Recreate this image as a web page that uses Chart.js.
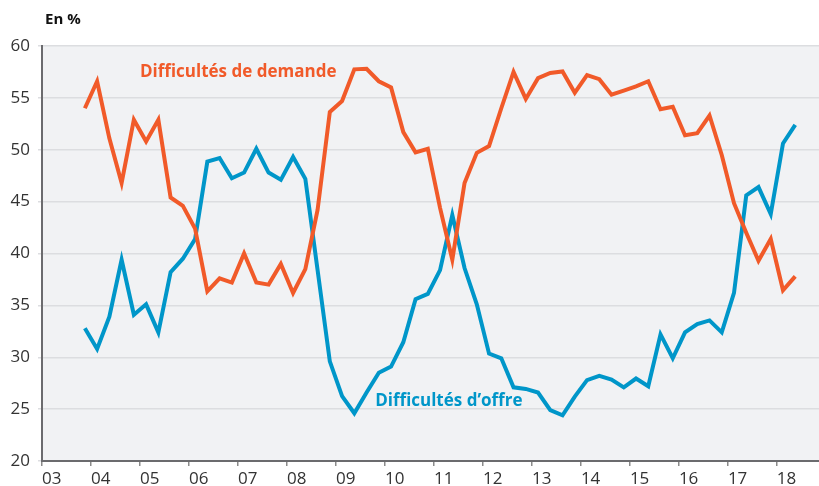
<!DOCTYPE html>
<html>
<head>
<meta charset="utf-8">
<script src="https://cdn.jsdelivr.net/npm/chart.js@4.4.0/dist/chart.umd.min.js"></script>
<style>
  html, body { margin: 0; padding: 0; background: #ffffff; }
  #wrap { position: relative; width: 819px; height: 486px; }
</style>
</head>
<body>
<div id="wrap"><canvas id="c" width="819" height="486"></canvas></div>
<script>
// Quarterly periods (year + quarter)
const periods = [
  "2003T4",
  "2004T1","2004T2","2004T3","2004T4",
  "2005T1","2005T2","2005T3","2005T4",
  "2006T1","2006T2","2006T3","2006T4",
  "2007T1","2007T2","2007T3","2007T4",
  "2008T1","2008T2","2008T3","2008T4",
  "2009T1","2009T2","2009T3","2009T4",
  "2010T1","2010T2","2010T3","2010T4",
  "2011T1","2011T2","2011T3","2011T4",
  "2012T1","2012T2","2012T3","2012T4",
  "2013T1","2013T2","2013T3","2013T4",
  "2014T1","2014T2","2014T3","2014T4",
  "2015T1","2015T2","2015T3","2015T4",
  "2016T1","2016T2","2016T3","2016T4",
  "2017T1","2017T2","2017T3","2017T4",
  "2018T1","2018T2"
];

// Difficultés de demande (%)
const demande = [
  54.0,
  56.6, 51.1, 46.8, 52.9,
  50.8, 52.9, 45.4, 44.6,
  42.4, 36.35, 37.6, 37.2,
  40.0, 37.2, 37.0, 39.0,
  36.2, 38.5, 44.2, 53.65,
  54.7, 57.75, 57.8, 56.6,
  56.0, 51.7, 49.75, 50.1,
  44.4, 39.4, 46.8, 49.7,
  50.35, 54.0, 57.5, 54.9,
  56.9, 57.4, 57.55, 55.5,
  57.2, 56.8, 55.3, 55.7,
  56.1, 56.6, 53.9, 54.15,
  51.4, 51.6, 53.3, 49.5,
  44.85, 42.0, 39.3, 41.4,
  36.45, 37.8
];

// Difficultés d'offre (%)
const offre = [
  32.8,
  30.8, 33.9, 39.4, 34.1,
  35.1, 32.4, 38.2, 39.5,
  41.4, 48.85, 49.2, 47.25,
  47.8, 50.1, 47.8, 47.1,
  49.3, 47.2, 38.4, 29.6,
  26.25, 24.6, 26.6, 28.5,
  29.1, 31.45, 35.6, 36.1,
  38.4, 43.7, 38.6, 35.1,
  30.35, 29.9, 27.1, 26.95,
  26.6, 24.9, 24.4, 26.2,
  27.8, 28.2, 27.85, 27.1,
  27.95, 27.2, 32.2, 29.9,
  32.4, 33.2, 33.55, 32.4,
  36.2, 45.6, 46.4, 43.8,
  50.6, 52.4
];

// Year ticks on the x axis
const yearTicks = [2003,2004,2005,2006,2007,2008,2009,2010,2011,2012,2013,2014,2015,2016,2017,2018];
// Y axis ticks
const yTicks = [20,25,30,35,40,45,50,55,60];

// Series labels
const labelDemande = "Difficultés de demande";
const labelOffre = "Difficultés d\u2019offre";
const unitLabel = "En %";

function periodToX(p) {
  const y = parseInt(p.slice(0, 4), 10);
  const q = parseInt(p.slice(5), 10);
  return y + (q - 0.5) / 4;
}

const ORANGE = "#F15A29";
const BLUE = "#0096C9";
const FONT = "'Open Sans', 'DejaVu Sans', sans-serif";

const bgPlugin = {
  id: "bg",
  beforeDraw(chart) {
    const { ctx, chartArea: a } = chart;
    ctx.save();
    ctx.fillStyle = "#F1F2F4";
    ctx.fillRect(a.left, a.top, a.right - a.left, a.bottom - a.top);
    ctx.restore();
  },
  afterDatasetsDraw(chart) {
    const { ctx, scales } = chart;
    const x = scales.x, y = scales.y;
    ctx.save();
    ctx.font = "bold 17px " + FONT;
    ctx.textBaseline = "middle";
    ctx.textAlign = "left";
    ctx.fillStyle = ORANGE;
    ctx.fillText(labelDemande, x.getPixelForValue(2005.0), y.getPixelForValue(57.45));
    ctx.fillStyle = BLUE;
    ctx.fillText(labelOffre, x.getPixelForValue(2009.8), y.getPixelForValue(25.75));
    ctx.fillStyle = "#111111";
    ctx.font = "bold 15px " + FONT;
    ctx.fillText(unitLabel, 45, 20);
    ctx.restore();
  }
};

const ctx = document.getElementById("c").getContext("2d");
new Chart(ctx, {
  type: "line",
  data: {
    datasets: [
      {
        label: labelDemande,
        data: periods.map((p, i) => ({ x: periodToX(p), y: demande[i] })),
        borderColor: ORANGE,
        borderWidth: 4,
        pointRadius: 0,
        tension: 0,
        fill: false,
        borderJoinStyle: "miter"
      },
      {
        label: labelOffre,
        data: periods.map((p, i) => ({ x: periodToX(p), y: offre[i] })),
        borderColor: BLUE,
        borderWidth: 4,
        pointRadius: 0,
        tension: 0,
        fill: false,
        borderJoinStyle: "miter"
      }
    ]
  },
  options: {
    responsive: false,
    animation: false,
    devicePixelRatio: 1,
    layout: { padding: { top: 46, right: 0, left: 0, bottom: 0 } },
    plugins: {
      legend: { display: false },
      tooltip: { enabled: false }
    },
    scales: {
      x: {
        type: "linear",
        min: 2003,
        max: 2018.86,
        afterBuildTicks(scale) {
          scale.ticks = yearTicks.map(v => ({ value: v }));
        },
        afterFit(scale) { scale.height = 25; },
        ticks: {
          autoSkip: false,
          maxRotation: 0,
          align: "start",
          padding: 3,
          color: "#333333",
          font: { family: FONT, size: 17 },
          callback: v => String(v).slice(2)
        },
        grid: {
          display: true,
          drawOnChartArea: false,
          drawTicks: true,
          tickLength: 5,
          color: "#8a8a8a",
          lineWidth: 1.5
        },
        border: { display: true, color: "#6b6b6e", width: 2 }
      },
      y: {
        min: 20,
        max: 60,
        afterBuildTicks(scale) {
          scale.ticks = yTicks.map(v => ({ value: v }));
        },
        afterFit(scale) { scale.width = 42; },
        ticks: {
          padding: 8,
          color: "#333333",
          font: { family: FONT, size: 17 }
        },
        grid: {
          color: "#DCDDE0",
          lineWidth: 1.5,
          drawTicks: true,
          tickLength: 4
        },
        border: { display: true, color: "#6b6b6e", width: 2 }
      }
    }
  },
  plugins: [bgPlugin]
});
</script>
</body>
</html>
